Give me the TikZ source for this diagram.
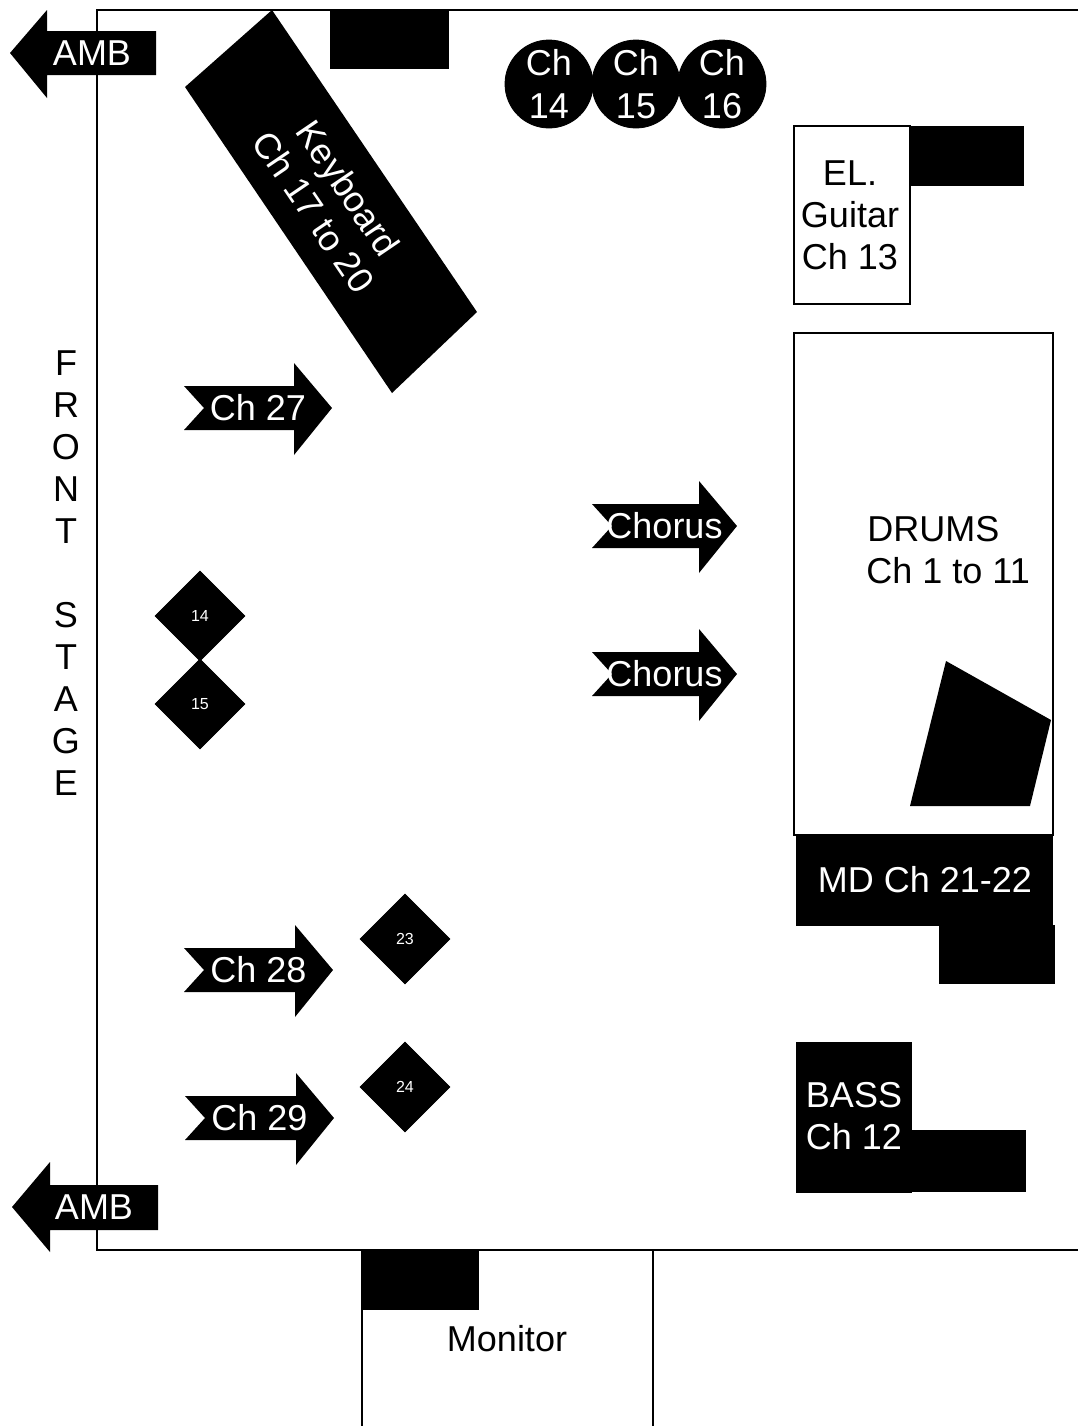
\documentclass[tikz,border=0pt]{standalone}
\usepackage{fontspec}
\setmainfont{Liberation Sans}
\usepackage{xcolor}
\usetikzlibrary{positioning,calc,shapes.geometric}
\tikzset{
  blackbox/.style={draw=black,fill=black,text=white,inner sep=0pt,align=center},
  whitebox/.style={draw=black,line width=0.8pt,fill=white,inner sep=0pt,align=center},
  lbl/.style={inner sep=0pt,align=center,font=\fontsize{18}{21}\selectfont},
  wlbl/.style={lbl,text=white},
  mic/.style={draw=black,fill=black,circle,minimum size=44pt,inner sep=0pt,text=white,align=center,font=\fontsize{18}{21.5}\selectfont},
  spot/.style={draw=black,fill=black,diamond,minimum width=45pt,minimum height=45pt,inner sep=0pt,text=white,font=\fontsize{8}{9}\selectfont},
  wall/.style={line width=1pt,black}
}
% notched arrow pointing right: tail x, centre y, width, label
\newcommand{\chanarrow}[4]{
\fill[black] (#1,#2)++(0,-22) -- ++(#3-38,0) -- ++(0,-23) -- ++(38,45) -- ++(-38,47) -- ++(0,-25) -- ++(-#3+38,0) -- ++(20,-22) -- cycle;
\node[wlbl] at (#1+#3/2,#2) {#4};
}
\begin{document}
\begin{tikzpicture}[x=0.5pt,y=-0.5pt]
\useasboundingbox (0,0) rectangle (1078,1426);
% stage outline
\draw[wall] (1078,10) -- (97,10) -- (97,1250) -- (1078,1250);
\node[lbl] (front) at (66,573) {F\\R\\O\\N\\T\\[21pt]S\\T\\A\\G\\E};
% ambience arrows
\fill[black] (10,53) -- (47,10) -- (47,31) -- (156,31) -- (156,75) -- (47,75) -- (47,98) -- cycle;
\node[wlbl] (ambtop) at (92,53) {AMB};
\fill[black] (12,1207) -- (50,1162) -- (50,1185) -- (158,1185) -- (158,1230) -- (50,1230) -- (50,1252) -- cycle;
\node[wlbl] (ambbottom) at (94,1207) {AMB};
% keyboard
\fill[black] (272,10) -- (477,312) -- (392,393) -- (185,87) -- cycle;
\node[wlbl,rotate=-55.8] (keys) at (331,200) {Keyboard\\Ch 17 to 20};
\fill[black] (330,10) rectangle (449,69);
% channels 14 to 16
\foreach \n/\x in {14/549,15/636,16/722}
  \node[mic] (ch\n) at (\x,84) {Ch\\\n};
% guitar
\draw[whitebox] (794,126) rectangle (910,304);
\node[lbl] (guitar) at (850,215) {EL.\\Guitar\\Ch 13};
\fill[black] (910,126) rectangle (1024,186);
% drums
\draw[whitebox] (794,333) rectangle (1053,835);
\node[lbl,anchor=west] (drumslabel) at (867,529) {DRUMS};
\node[lbl,anchor=west] (drumsch) at (866,571) {Ch 1 to 11};
\fill[black] (946,661) -- (1051,720) -- (1030,806) -- (910,806) -- cycle;
\draw[blackbox] (796,835) rectangle (1052,925);
\node[wlbl] (md) at (925,880) {MD Ch 21-22};
\fill[black] (939,925) rectangle (1055,984);
% bass
\draw[blackbox] (796,1042) rectangle (911,1192);
\node[wlbl] (bass) at (854,1116) {BASS\\Ch 12};
\fill[black] (911,1130) rectangle (1026,1192);
% monitor
\draw[whitebox] (362,1426) -- (362,1250) -- (653,1250) -- (653,1426);
\fill[black] (362,1250) rectangle (479,1310);
\node[lbl] (monitor) at (507,1339) {Monitor};
% vocal arrows
\chanarrow{184}{408}{148}{Ch 27}
\chanarrow{592}{526}{145}{Chorus}
\chanarrow{592}{674}{145}{Chorus}
\chanarrow{184}{970}{149}{Ch 28}
\chanarrow{185}{1118}{149}{Ch 29}
% wedges
\node[spot] (w14) at (200,616) {14};
\node[spot] (w15) at (200,704) {15};
\node[spot] (w23) at (405,939) {23};
\node[spot] (w24) at (405,1087) {24};
\end{tikzpicture}
\end{document}
